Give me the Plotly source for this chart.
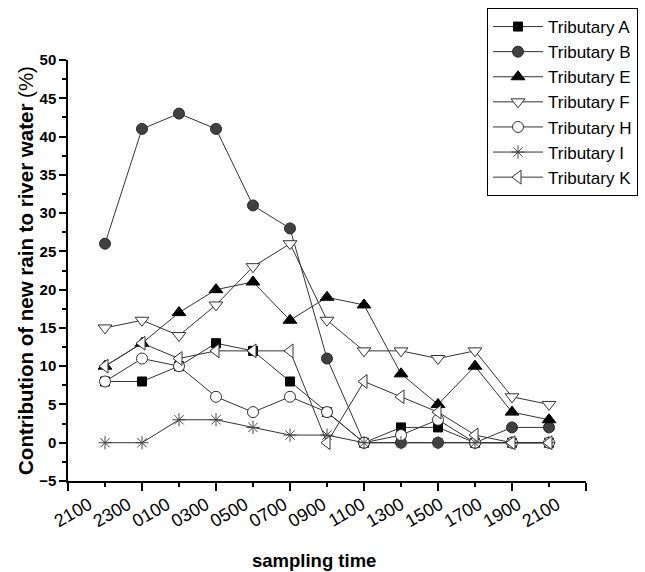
import plotly.graph_objects as go

times = ["2100", "2300", "0100", "0300", "0500", "0700", "0900",
         "1100", "1300", "1500", "1700", "1900", "2100"]
x_pos = list(range(1, len(times) + 1))

trib_A = [8, 8, 10, 13, 12, 8, 4, 0, 2, 2, 0, 0, 0]
trib_B = [26, 41, 43, 41, 31, 28, 11, 0, 0, 0, 0, 2, 2]
trib_E = [10, 13, 17, 20, 21, 16, 19, 18, 9, 5, 10, 4, 3]
trib_F = [15, 16, 14, 18, 23, 26, 16, 12, 12, 11, 12, 6, 5]
trib_H = [8, 11, 10, 6, 4, 6, 4, 0, 1, 3, 0, 0, 0]
trib_I = [0, 0, 3, 3, 2, 1, 1, 0, 0, 0, 0, 0, 0]
trib_K = [10, 13, 11, 12, 12, 12, 0, 8, 6, 4, 1, 0, 0]

series = [
    ("Tributary A", trib_A, dict(symbol="square", size=9, color="#000000", line=dict(color="#000000", width=1))),
    ("Tributary B", trib_B, dict(symbol="circle", size=11, color="#404040", line=dict(color="#2a2a2a", width=1))),
    ("Tributary E", trib_E, dict(symbol="triangle-up", size=12, color="#000000", line=dict(color="#000000", width=1))),
    ("Tributary F", trib_F, dict(symbol="triangle-down", size=12, color="#ffffff", line=dict(color="#333333", width=1))),
    ("Tributary H", trib_H, dict(symbol="circle", size=11, color="#ffffff", line=dict(color="#333333", width=1))),
    ("Tributary I", trib_I, dict(symbol="asterisk-open", size=11, color="#444444", line=dict(color="#444444", width=1))),
    ("Tributary K", trib_K, dict(symbol="triangle-left", size=12, color="#ffffff", line=dict(color="#333333", width=1))),
]

fig = go.Figure()
for name, vals, mk in series:
    fig.add_trace(go.Scatter(
        x=x_pos, y=vals, name=name, mode="lines+markers",
        line=dict(color="#333333", width=1), marker=mk,
    ))
# invisible helper trace so the label axis (xaxis2) is rendered
fig.add_trace(go.Scatter(x=[None], y=[None], xaxis="x2", showlegend=False, hoverinfo="skip"))

# label axis: the original figure's tick labels are spread slightly wider than the ticks
plot_w = 586 - 68
unit = plot_w / 14.0
label_pos = [(97 + 39 * i - 68 - 8) / unit for i in range(len(times))]

font_family = "Arial, Liberation Sans, sans-serif"

fig.update_layout(
    width=645, height=572,
    margin=dict(l=68, r=59, t=60, b=91, autoexpand=False),
    plot_bgcolor="white", paper_bgcolor="white",
    font=dict(family=font_family, color="black"),
    showlegend=True,
    legend=dict(
        xref="container", yref="container",
        x=487 / 645, y=1 - 8 / 572, xanchor="left", yanchor="top",
        bordercolor="#000000", borderwidth=1, bgcolor="white",
        font=dict(size=17, family=font_family, color="black"),
        tracegroupgap=0, itemwidth=50,
    ),
    xaxis=dict(
        range=[0, 14], showgrid=False, zeroline=False, automargin=False,
        showline=True, linecolor="black", linewidth=1.5,
        tickmode="array", tickvals=x_pos, showticklabels=False,
        ticks="outside", ticklen=4, tickwidth=1.5, tickcolor="black",
        minor=dict(tickvals=[0, 2, 4, 6, 8, 10, 12, 14], ticks="outside",
                   ticklen=8, tickwidth=1.5, tickcolor="black"),
    ),
    xaxis2=dict(
        range=[0, 14], overlaying="x", side="bottom", anchor="y",
        showgrid=False, zeroline=False, automargin=False, showline=False,
        tickmode="array", tickvals=label_pos, ticktext=times, ticks="",
        ticklabelstandoff=9,
        tickangle=-30, tickfont=dict(size=18, family=font_family, color="black"),
    ),
    yaxis=dict(
        range=[-5, 50], showgrid=False, zeroline=False, automargin=False,
        showline=True, linecolor="black", linewidth=1.5,
        tickmode="linear", tick0=0, dtick=5,
        ticks="outside", ticklen=7, tickwidth=1.5, tickcolor="black",
        tickfont=dict(size=15, family=font_family, color="black", weight="bold"),
        minor=dict(dtick=2.5, tick0=0, ticks="outside", ticklen=4, tickwidth=1.5, tickcolor="black"),
        title=dict(text="<b>Contribution of new rain to river water </b>(%)",
                   font=dict(size=20.5, family=font_family), standoff=0),
    ),
    annotations=[dict(
        text="<b>sampling time</b>", xref="paper", yref="paper",
        x=(314 - 68) / 518, y=(481 - 560) / 421, xanchor="center", yanchor="middle",
        showarrow=False, font=dict(size=18.5, family=font_family, color="black"),
    )],
)

fig.write_html("out.html")
